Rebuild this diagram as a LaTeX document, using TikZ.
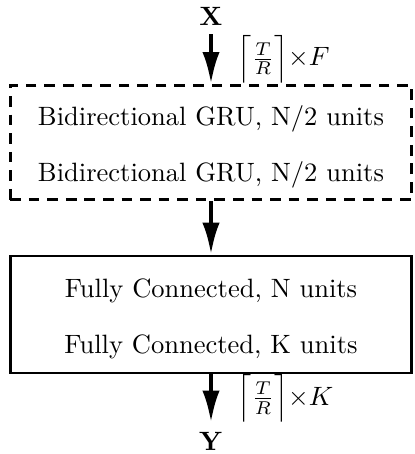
\documentclass[tikz,border=0pt]{standalone}
\usepackage{amsmath,amssymb,bm}
\usetikzlibrary{positioning,fit,arrows.meta}
\tikzset{
	layer/.style={text width=131pt, align=center, inner sep=0pt, text height=8pt, text depth=0pt},
	stack/.style={draw, line width=1pt, inner xsep=10pt, inner ysep=6.8pt},
	flow/.style={-{Latex[length=12pt,width=6.5pt]}, line width=1.5pt},
	dimlbl/.style={right, xshift=6pt}
}

\begin{document}
\begin{tikzpicture}[x=0.377pt, y=-0.377pt]
		\useasboundingbox (0,0) rectangle (415,454);
		% Define nodes
		\node (X) at (211,16) {$\mathbf{X}$};
		\node[layer, anchor=base] (gru1) at (211,125) {Bidirectional GRU, N/2 units};
		\node[layer, anchor=base] (gru2) at (211,181) {Bidirectional GRU, N/2 units};
		\node[stack, dashed, dash pattern=on 4pt off 3pt, fit=(gru1)(gru2)] (rnn) {};
		\node[layer, anchor=base] (fc1) at (211,297) {Fully Connected, N units};
		\node[layer, anchor=base] (fc2) at (211,353) {Fully Connected, K units};
		\node[stack, inner ysep=7.3pt, fit=(fc1)(fc2)] (dense) {};
		\node (Y) at (211,441) {$\mathbf{Y}$};
		
		% Connect the nodes
		\draw[flow] (X) -- node[dimlbl] {$\Bigl\lceil\frac{T}{R}\Bigr\rceil{\times}F$} (rnn);
		\draw[flow] (rnn) -- (dense);
		\draw[flow] (dense) -- node[dimlbl] {$\Bigl\lceil\frac{T}{R}\Bigr\rceil{\times}K$} (Y);
	\end{tikzpicture}
\end{document}
